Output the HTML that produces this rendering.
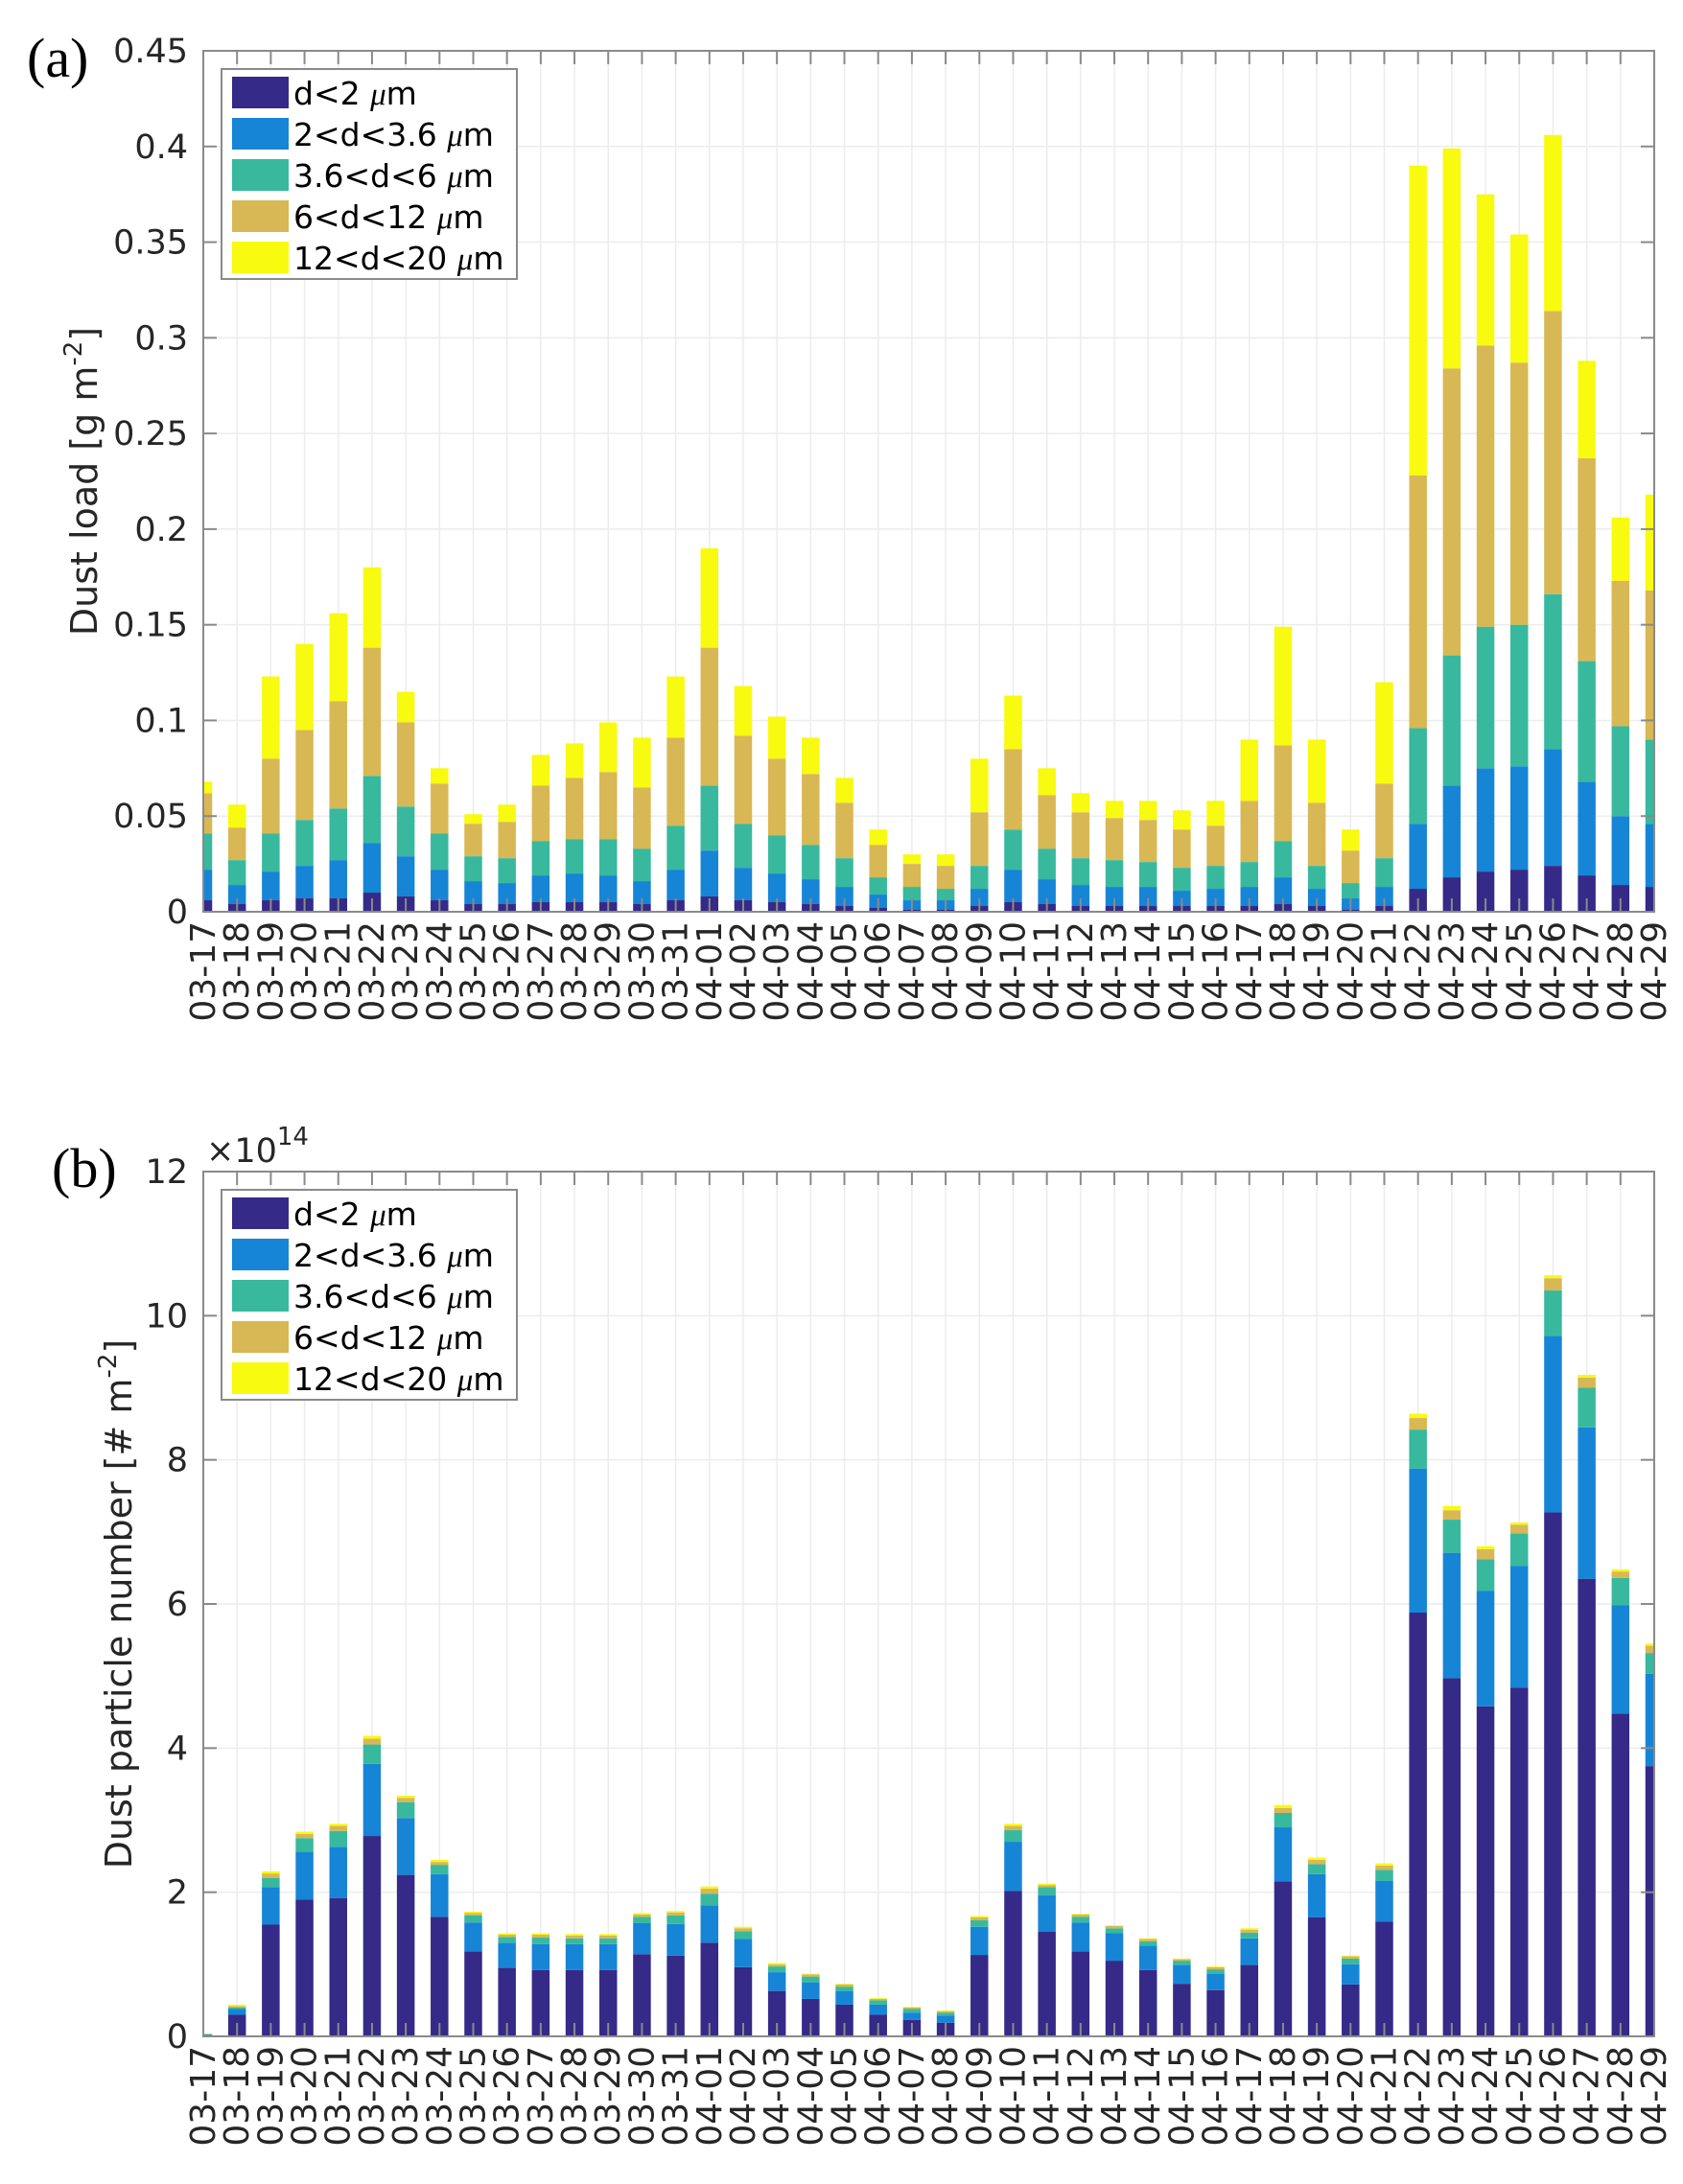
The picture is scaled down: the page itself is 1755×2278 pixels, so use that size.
<!DOCTYPE html>
<html><head><meta charset="utf-8"><style>
html,body{margin:0;padding:0;background:#fff;}
svg{display:block;}
</style></head><body>
<svg id="fig" width="1755" height="2278" viewBox="0 0 1755 2278" xmlns="http://www.w3.org/2000/svg">
<defs>
<clipPath id="clipA"><rect x="212" y="53" width="1513" height="898"/></clipPath>
<clipPath id="clipB"><rect x="212" y="1222" width="1513" height="902"/></clipPath>
</defs>
<text x="28" y="80" font-family="Liberation Serif, serif" font-size="58">(a)</text>
<text x="54" y="1238" font-family="Liberation Serif, serif" font-size="58">(b)</text>
</svg>
<script>
const categories = ["03-17","03-18","03-19","03-20","03-21","03-22","03-23","03-24","03-25","03-26","03-27","03-28","03-29","03-30","03-31","04-01","04-02","04-03","04-04","04-05","04-06","04-07","04-08","04-09","04-10","04-11","04-12","04-13","04-14","04-15","04-16","04-17","04-18","04-19","04-20","04-21","04-22","04-23","04-24","04-25","04-26","04-27","04-28","04-29"];
const seriesNames = ["d<2 ","2<d<3.6 ","3.6<d<6 ","6<d<12 ","12<d<20 "];
const seriesColors = ["#352a87","#1685d6","#38b99e","#d8b854","#f8fa10"];
// Panel (a) cumulative tops per size bin [g m^-2]
const loadCum1 = [0.006,0.004,0.006,0.007,0.007,0.010,0.008,0.006,0.004,0.004,0.005,0.005,0.005,0.004,0.006,0.008,0.006,0.005,0.004,0.003,0.002,0.001,0.001,0.003,0.005,0.004,0.003,0.003,0.003,0.003,0.003,0.003,0.004,0.003,0.001,0.003,0.012,0.018,0.021,0.022,0.024,0.019,0.014,0.013];
const loadCum2 = [0.022,0.014,0.021,0.024,0.027,0.036,0.029,0.022,0.016,0.015,0.019,0.020,0.019,0.016,0.022,0.032,0.023,0.020,0.017,0.013,0.009,0.006,0.006,0.012,0.022,0.017,0.014,0.013,0.013,0.011,0.012,0.013,0.018,0.012,0.007,0.013,0.046,0.066,0.075,0.076,0.085,0.068,0.050,0.046];
const loadCum3 = [0.041,0.027,0.041,0.048,0.054,0.071,0.055,0.041,0.029,0.028,0.037,0.038,0.038,0.033,0.045,0.066,0.046,0.040,0.035,0.028,0.018,0.013,0.012,0.024,0.043,0.033,0.028,0.027,0.026,0.023,0.024,0.026,0.037,0.024,0.015,0.028,0.096,0.134,0.149,0.150,0.166,0.131,0.097,0.090];
const loadCum4 = [0.062,0.044,0.080,0.095,0.110,0.138,0.099,0.067,0.046,0.047,0.066,0.070,0.073,0.065,0.091,0.138,0.092,0.080,0.072,0.057,0.035,0.025,0.024,0.052,0.085,0.061,0.052,0.049,0.048,0.043,0.045,0.058,0.087,0.057,0.032,0.067,0.228,0.284,0.296,0.287,0.314,0.237,0.173,0.168];
const loadCum5 = [0.068,0.056,0.123,0.140,0.156,0.180,0.115,0.075,0.051,0.056,0.082,0.088,0.099,0.091,0.123,0.190,0.118,0.102,0.091,0.070,0.043,0.030,0.030,0.080,0.113,0.075,0.062,0.058,0.058,0.053,0.058,0.090,0.149,0.090,0.043,0.120,0.390,0.399,0.375,0.354,0.406,0.288,0.206,0.218];
// Panel (b) cumulative tops [x1e14 # m^-2]
const numCum1 = [0.01,0.30,1.55,1.90,1.92,2.78,2.24,1.66,1.18,0.95,0.92,0.92,0.92,1.14,1.12,1.30,0.96,0.63,0.52,0.44,0.30,0.23,0.19,1.13,2.02,1.45,1.18,1.05,0.92,0.73,0.64,0.99,2.15,1.65,0.72,1.59,5.88,4.97,4.58,4.84,7.27,6.35,4.48,3.75];
const numCum2 = [0.02,0.38,2.07,2.56,2.63,3.78,3.03,2.25,1.58,1.30,1.28,1.28,1.28,1.57,1.56,1.82,1.35,0.89,0.75,0.63,0.44,0.33,0.29,1.52,2.70,1.96,1.58,1.43,1.26,0.99,0.87,1.36,2.90,2.25,1.00,2.16,7.88,6.71,6.18,6.53,9.72,8.45,5.98,5.03];
const numCum3 = [0.03,0.40,2.20,2.75,2.85,4.05,3.25,2.38,1.68,1.38,1.37,1.36,1.36,1.66,1.68,1.98,1.46,0.97,0.83,0.69,0.50,0.38,0.33,1.61,2.86,2.07,1.66,1.50,1.32,1.05,0.93,1.44,3.10,2.39,1.08,2.31,8.42,7.17,6.62,6.98,10.35,9.00,6.36,5.32];
const numCum4 = [0.035,0.42,2.26,2.81,2.92,4.13,3.31,2.42,1.71,1.41,1.41,1.40,1.40,1.69,1.72,2.05,1.50,1.00,0.86,0.72,0.52,0.40,0.35,1.65,2.92,2.10,1.69,1.53,1.35,1.07,0.96,1.48,3.17,2.45,1.11,2.37,8.58,7.30,6.76,7.10,10.52,9.14,6.45,5.42];
const numCum5 = [0.04,0.44,2.29,2.84,2.95,4.17,3.34,2.45,1.73,1.43,1.43,1.42,1.42,1.71,1.74,2.08,1.52,1.02,0.87,0.73,0.53,0.41,0.36,1.67,2.95,2.12,1.70,1.54,1.36,1.08,0.97,1.50,3.21,2.48,1.12,2.40,8.64,7.36,6.80,7.13,10.56,9.18,6.48,5.45];
const loadTicks = [0,0.05,0.1,0.15,0.2,0.25,0.3,0.35,0.4,0.45];
const loadTickLabels = ["0","0.05","0.1","0.15","0.2","0.25","0.3","0.35","0.4","0.45"];
const numTicks = [0,2,4,6,8,10,12];
const numTickLabels = ["0","2","4","6","8","10","12"];

const NS = "http://www.w3.org/2000/svg";
const svg = document.getElementById('fig');
function mk(tag, attrs, parent){ const e=document.createElementNS(NS,tag); for(const k in attrs) e.setAttribute(k,attrs[k]); (parent||svg).appendChild(e); return e; }
const FONT = "DejaVu Sans, Liberation Sans, sans-serif";

function drawPanel(p){
  const L=212,R=1725,T=p.top,B=p.bottom;
  const xScale = i => L + i*(R-L)/(categories.length-1);
  const yScale = v => B - (v - 0)/(p.ymax)*(B-T);
  const g = mk('g',{});
  
  
  categories.forEach((c,i)=>{
    const gl = mk('line',{x1:xScale(i),x2:xScale(i),y1:T,y2:B,stroke:'#ececec','stroke-width':1.5},g);
    
    
  });
  p.ticks.forEach(v=>{
    const gl = mk('line',{x1:L,x2:R,y1:yScale(v),y2:yScale(v),stroke:'#ececec','stroke-width':1.5},g);
    
    
  });
  const bw = 18.5;
  const bars = mk('g',{'clip-path':'url(#'+p.clip+')'},g);
  categories.forEach((c,i)=>{
    let prev = 0;
    p.series.forEach((arr,s)=>{
      const top = arr[i];
      const y1 = yScale(top), y0 = yScale(prev);
      const r = mk('rect',{x:xScale(i)-bw/2,y:y1,width:bw,height:Math.max(0,y0-y1),fill:seriesColors[s]},bars);
      
      
      prev = top;
    });
  });
  const fr = mk('rect',{x:L,y:T,width:R-L,height:B-T,fill:'none',stroke:'#8a8a8a','stroke-width':2},g);
  
  
  categories.forEach((c,i)=>{
    const x=xScale(i);
    mk('line',{x1:x,x2:x,y1:B,y2:B-14,stroke:'#8a8a8a','stroke-width':2},g);
    mk('line',{x1:x,x2:x,y1:T,y2:T+14,stroke:'#8a8a8a','stroke-width':2},g);
    const t = mk('text',{x:0,y:0,transform:'translate('+(x+12)+','+(B+10)+') rotate(-90)','text-anchor':'end','font-family':FONT,'font-size':36,fill:'#262626'},g);
    t.textContent = c;
    
    
  });
  p.ticks.forEach((v,k)=>{
    const y=yScale(v);
    mk('line',{x1:L,x2:L+14,y1:y,y2:y,stroke:'#8a8a8a','stroke-width':2},g);
    mk('line',{x1:R,x2:R-14,y1:y,y2:y,stroke:'#8a8a8a','stroke-width':2},g);
    const t = mk('text',{x:196,y:y+12,'text-anchor':'end','font-family':FONT,'font-size':35,fill:'#262626'},g);
    t.textContent = p.tickLabels[k];
    
    
  });
  const yt = mk('text',{x:0,y:0,transform:'translate('+p.titleX+','+((T+B)/2)+') rotate(-90)','text-anchor':'middle','font-family':FONT,'font-size':38,fill:'#262626'},g);
  
  
  yt.appendChild(document.createTextNode(p.title));
  const sup = mk('tspan',{'font-size':26,dy:-16},yt); sup.textContent='-2';
  const cl = mk('tspan',{'font-size':38,dy:16},yt); cl.textContent=']';
  const lg = mk('g',{},g);
  
  
  mk('rect',{x:231,y:p.legTop,width:308,height:219,fill:'#fff',stroke:'#8a8a8a','stroke-width':2},lg);
  seriesNames.forEach((n,s)=>{
    const yy = p.legTop+8+s*43;
    const e = mk('g',{},lg);
    
    
    mk('rect',{x:242,y:yy,width:59,height:33,fill:seriesColors[s]},e);
    const t = mk('text',{x:306,y:yy+29,'font-family':FONT,'font-size':33,fill:'#000'},e);
    t.appendChild(document.createTextNode(n));
    const mu = mk('tspan',{'font-family':'Liberation Serif, serif','font-style':'italic'},t); mu.textContent='\u03bc';
    const m = mk('tspan',{},t); m.textContent='m';
  });
}

drawPanel({key:'panel-a',top:53,bottom:951,ymax:0.45,ticks:loadTicks,tickLabels:loadTickLabels,clip:'clipA',
  series:[loadCum1,loadCum2,loadCum3,loadCum4,loadCum5],title:'Dust load [g m',titleX:101,legTop:72});
drawPanel({key:'panel-b',top:1222,bottom:2124,ymax:12,ticks:numTicks,tickLabels:numTickLabels,clip:'clipB',
  series:[numCum1,numCum2,numCum3,numCum4,numCum5],title:'Dust particle number [# m',titleX:137,legTop:1241});

const ex = mk('text',{x:215,y:1212,'font-family':FONT,'font-size':35,fill:'#262626'});


ex.appendChild(document.createTextNode('\u00d710'));
const exs = mk('tspan',{'font-size':26,dy:-18},ex); exs.textContent='14';
</script>
</body></html>
